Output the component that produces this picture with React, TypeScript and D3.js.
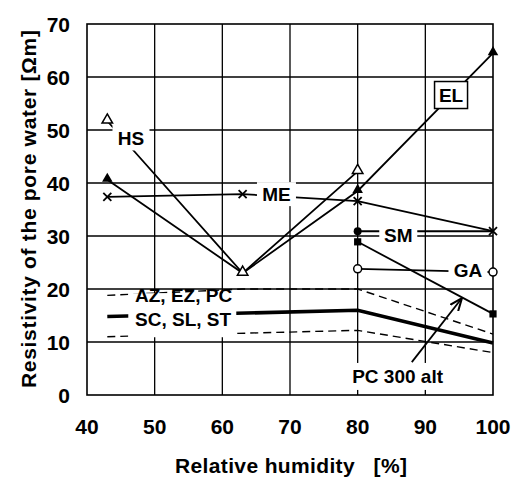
import React from 'react';
import * as d3 from 'd3';

// values
const xTicks = [40, 50, 60, 70, 80, 90, 100];
const yTicks = [0, 10, 20, 30, 40, 50, 60, 70];

const elData = [[43, 40.6], [63, 23], [80, 38.5], [100, 64.5]];
const hsData = [[43, 51.7], [63, 23], [80, 42.2]];
const meData = [[43, 37.4], [63, 37.9], [80, 36.6], [100, 30.9]];
const smData = [[80, 30.9], [100, 30.9]];
const pcAltData = [[80, 28.9], [100, 15.3]];
const gaData = [[80, 23.8], [100, 23.2]];
const azUpper = [[43, 18.8], [63, 20], [80, 20], [100, 11.5]];
const azLower = [[43, 11], [80, 12.2], [100, 8]];
const scData = [[43, 14.8], [80, 16], [100, 9.8]];

// annotation boxes: text, centre x/y in data units, box width/height in px
const labels = [
  { text: 'HS', x: 46.5, y: 48.5, w: 37, h: 25 },
  { text: 'ME', x: 68.0, y: 37.9, w: 39, h: 24 },
  { text: 'EL', x: 93.8, y: 56.6, w: 33, h: 27, border: true },
  { text: 'SM', x: 86.0, y: 30.2, w: 38, h: 22 },
  { text: 'GA', x: 96.3, y: 23.6, w: 39, h: 23 },
  { text: 'PC 300 alt', x: 85.9, y: 3.5, w: 100, h: 27 },
];

const W = 513;
const H = 477;

export default function App() {
  const x = d3.scaleLinear().domain([40, 100]).range([87, 493]);
  const y = d3.scaleLinear().domain([0, 70]).range([395, 24]);
  const line = d3.line<number[]>().x(d => x(d[0])).y(d => y(d[1]));
  const font = '"Liberation Sans", Arial, sans-serif';

  const tri = d3.symbol().type(d3.symbolTriangle).size(48)();
  const circ = d3.symbol().type(d3.symbolCircle).size(50)();
  const sq = d3.symbol().type(d3.symbolSquare).size(52)();

  const cross = (d: number[], i: number) => (
    <g key={i} transform={`translate(${x(d[0])},${y(d[1])})`} stroke="#000" strokeWidth={1.8}>
      <line x1={-4} y1={-4} x2={4} y2={4} />
      <line x1={-4} y1={4} x2={4} y2={-4} />
    </g>
  );

  const ax = x(88.0), ay = y(6.2), bx = x(95.3), by = y(18.1);

  return (
    <svg width={W} height={H} style={{ position: 'absolute', left: 0, top: 0 }} fontFamily={font} fontWeight="bold">
      <defs>
        <marker id="arr" viewBox="0 0 10 10" refX="9" refY="5" markerWidth="7" markerHeight="7" orient="auto">
          <path d="M0,1 L10,5 L0,9" fill="none" stroke="#000" strokeWidth={1.6} />
        </marker>
      </defs>
      <rect width={W} height={H} fill="#fff" />

      {/* grid */}
      {yTicks.slice(1, -1).map(t => (
        <line key={'gy' + t} x1={x(40)} x2={x(100)} y1={y(t)} y2={y(t)} stroke="#000" strokeWidth={1.3} />
      ))}
      {xTicks.slice(1, -1).map(t => (
        <line key={'gx' + t} x1={x(t)} x2={x(t)} y1={y(0)} y2={y(70)} stroke="#000" strokeWidth={1.3} />
      ))}
      <rect x={x(40)} y={y(70)} width={x(100) - x(40)} height={y(0) - y(70)} fill="none" stroke="#000" strokeWidth={1.6} />

      {/* series lines */}
      <g fill="none" stroke="#000">
        <path d={line(azUpper as any)!} strokeWidth={1.4} strokeDasharray="8,5" />
        <path d={line(azLower as any)!} strokeWidth={1.4} strokeDasharray="8,5" />
        <path d={line(scData as any)!} strokeWidth={3.6} />
        <path d={line(elData as any)!} strokeWidth={1.8} />
        <path d={line(hsData as any)!} strokeWidth={1.8} />
        <path d={line(meData as any)!} strokeWidth={1.8} />
        <path d={line(smData as any)!} strokeWidth={1.8} />
        <path d={line(pcAltData as any)!} strokeWidth={1.8} />
        <path d={line(gaData as any)!} strokeWidth={1.8} />
      </g>

      {/* label boxes */}
      {labels.map(l => (
        <rect key={'b' + l.text} x={x(l.x) - l.w / 2} y={y(l.y) - l.h / 2} width={l.w} height={l.h}
          fill="#fff" stroke={l.border ? '#000' : 'none'} strokeWidth={1.5} />
      ))}
      <rect x={x(46.1)} y={y(19.2)} width={108} height={44} fill="#fff" />

      {/* markers */}
      {elData.map((d, i) => <path key={'el' + i} d={tri!} transform={`translate(${x(d[0])},${y(d[1]) - 1})`} fill="#000" />)}
      {hsData.map((d, i) => <path key={'hs' + i} d={tri!} transform={`translate(${x(d[0])},${y(d[1]) - 1})`} fill="#fff" stroke="#000" strokeWidth={1.5} />)}
      {meData.map(cross)}
      {smData.slice(0, 1).map((d, i) => <path key={'sm' + i} d={circ!} transform={`translate(${x(d[0])},${y(d[1])})`} fill="#000" />)}
      {pcAltData.map((d, i) => <path key={'pc' + i} d={sq!} transform={`translate(${x(d[0])},${y(d[1])})`} fill="#000" />)}
      {gaData.map((d, i) => <path key={'ga' + i} d={circ!} transform={`translate(${x(d[0])},${y(d[1])})`} fill="#fff" stroke="#000" strokeWidth={1.5} />)}

      {/* arrow */}
      <line x1={ax} y1={ay} x2={bx} y2={by} stroke="#000" strokeWidth={1.8} markerEnd="url(#arr)" />

      {/* label texts */}
      {labels.map(l => (
        <text key={'t' + l.text} x={x(l.x)} y={y(l.y)} dy="0.36em" textAnchor="middle" fontSize={19}>{l.text}</text>
      ))}
      <text x={x(47.1)} y={y(17.5)} fontSize={19}>AZ, EZ, PC</text>
      <text x={x(47.1)} y={y(13.1)} fontSize={19}>SC, SL, ST</text>

      {/* axes */}
      {xTicks.map(t => (
        <text key={'xt' + t} x={x(t)} y={434} textAnchor="middle" fontSize={21}>{t}</text>
      ))}
      {yTicks.map(t => (
        <text key={'yt' + t} x={70} y={y(t)} dy="0.36em" textAnchor="end" fontSize={21}>{t}</text>
      ))}
      <text x={175} y={473} fontSize={21} textLength={232} lengthAdjust="spacing" xmlSpace="preserve">Relative humidity   [%]</text>
      <text transform="translate(36,209) rotate(-90)" textAnchor="middle" fontSize={21} textLength={358} lengthAdjust="spacing">Resistivity of the pore water [Ωm]</text>
    </svg>
  );
}
